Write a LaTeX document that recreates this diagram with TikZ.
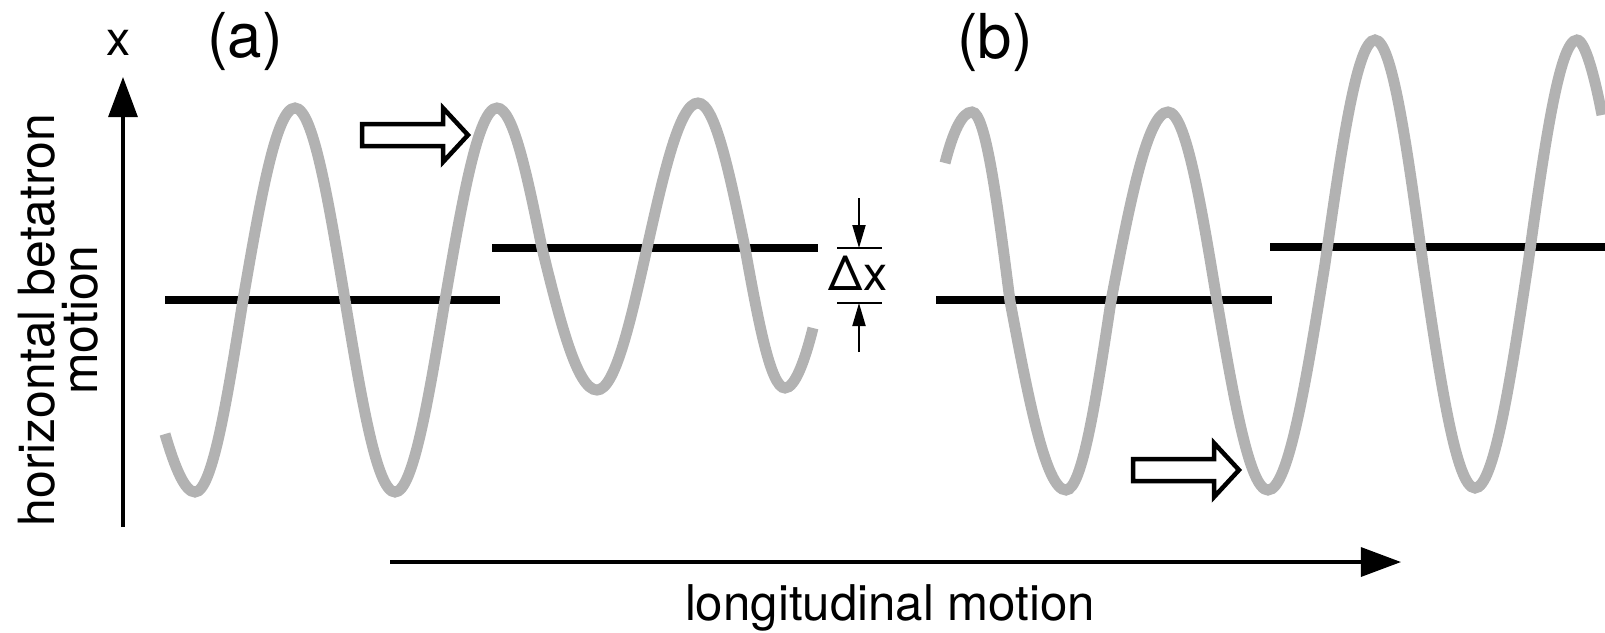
\documentclass[tikz,border=0pt]{standalone}
\usepackage{fontspec}
\setmainfont{TeX Gyre Heros}
\usetikzlibrary{arrows.meta}
\tikzset{
  wave/.style={line width=0.11cm, draw=black!30},
  level/.style={line width=0.075cm, draw=black},
  axis/.style={line width=0.032cm, -{Triangle[length=0.4cm,width=0.29cm]}},
  thinarrow/.style={line width=0.02cm, -{Triangle[length=0.23cm,width=0.13cm]}},
  tick/.style={line width=0.025cm},
  hollowline/.style={line width=0.045cm, draw=black, fill=white, line join=miter},
  lbl/.style={inner sep=0pt, font=\fontsize{13.7}{16}\selectfont},
  panel/.style={inner sep=0pt, font=\fontsize{17.6}{20}\selectfont},
  hollow/.pic={\draw[hollowline] (-106,-11) -- (-25,-11) -- (-25,-27) -- (0,0) -- (-25,27) -- (-25,11) -- (-106,11) -- cycle;}
}
\begin{document}
\begin{tikzpicture}[x=0.01cm, y=-0.01cm]
\useasboundingbox (0,0) rectangle (1605,632);
% axes
\coordinate (vb) at (123,527);
\coordinate (vt) at (123,77);
\coordinate (hb) at (390,562);
\coordinate (ht) at (1401,562);
\draw[axis] (vb) -- (vt);
\draw[axis] (hb) -- (ht);
% centre lines
\coordinate (a1l) at (165,300); \coordinate (a1r) at (500,300);
\coordinate (a2l) at (492,248); \coordinate (a2r) at (818,248);
\coordinate (b1l) at (936,300); \coordinate (b1r) at (1272,300);
\coordinate (b2l) at (1270,247); \coordinate (b2r) at (1605,247);
\draw[level] (a1l) -- (a1r);
\draw[level] (a2l) -- (a2r);
\draw[level] (b1l) -- (b1r);
\draw[level] (b2l) -- (b2r);
% waves
\draw[wave] (165,434) .. controls (175,468) and (185,492) .. (195,492)
  cos (243,300) sin (295,108) cos (345,300) sin (395,492) cos (445,300) sin (497,108)
  cos (542,248) sin (597,390) cos (647,248) sin (698,103) cos (745,248) sin (785,388)
  .. controls (795,388) and (805,360) .. (813,328);
\draw[wave] (945,163) .. controls (953,132) and (962,112) .. (972,112)
  cos (1010,301) sin (1066,490) cos (1111,301) sin (1168,112) cos (1217,301) sin (1268,490)
  cos (1325,264) sin (1375,40) cos (1423,264) sin (1475,488) cos (1528,264) sin (1577,40)
  .. controls (1585,40) and (1595,78) .. (1602,115);
% delta x annotation
\coordinate (t1l) at (837,248); \coordinate (t1r) at (882,248);
\coordinate (t2l) at (837,303); \coordinate (t2r) at (882,303);
\draw[tick] (t1l) -- (t1r);
\draw[tick] (t2l) -- (t2r);
\coordinate (d1s) at (859,198); \coordinate (d1e) at (859,248);
\coordinate (d2s) at (859,352); \coordinate (d2e) at (859,303);
\draw[thinarrow] (d1s) -- (d1e);
\draw[thinarrow] (d2s) -- (d2e);
\node[lbl, anchor=base] (dx) at (858,290) {Δx};
% hollow arrows
\pic at (468,135) {hollow};
\pic at (1239,470) {hollow};
% labels
\node[lbl, anchor=base] (xl) at (119,55) {x};
\node[panel, anchor=base] (la) at (245,57) {(a)};
\node[panel, anchor=base] (lb) at (995,58) {(b)};
\node[lbl, anchor=base, font=\fontsize{14}{16}\selectfont] (lm) at (890,620) {longitudinal motion};
\node[lbl, rotate=90, align=center, font=\fontsize{14.2}{12.3}\selectfont] (lv) at (58,320) {horizontal betatron\\motion};
\end{tikzpicture}
\end{document}
